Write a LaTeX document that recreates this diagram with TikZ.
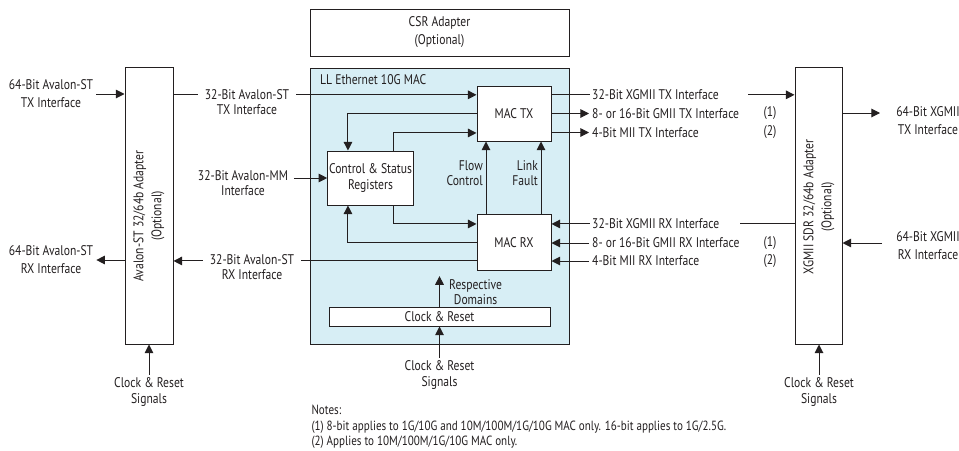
\documentclass[tikz,border=0pt]{standalone}
\usepackage{fontspec}
\setmainfont{PT Sans}[FakeStretch=0.83]
\usepackage{tikz}
\usetikzlibrary{arrows.meta, positioning}

\definecolor{macblue}{RGB}{215,238,245}
\definecolor{ink}{RGB}{35,31,32}

\begin{document}
\begin{tikzpicture}[x=0.75pt, y=-0.75pt, on grid, color=ink, line width=0.75pt,
    font=\fontsize{10.5}{11.5}\selectfont,
    block/.style={draw, fill=white, align=center, inner sep=1pt},
    lbl/.style={align=center, inner sep=2pt},
    cut/.style={lbl, fill=white, inner xsep=5pt},
    wide/.style={lbl, font=\fontsize{10.5}{13.5}\selectfont},
    arr/.style={-{Triangle[length=6.5pt, width=6.5pt]}}]

\useasboundingbox (0,0) rectangle (959,450);

\node[block, wide, minimum width=194.25pt, minimum height=35.25pt] (csra) at (439.5,32.5) {CSR Adapter\\(Optional)};
\node[block, fill=macblue, minimum width=194.25pt, minimum height=207pt] (mac) at (439.5,206) {};
\node[lbl, anchor=west] (mactitle) at (317,80) {LL Ethernet 10G MAC};

\node[block, minimum width=55.5pt, minimum height=41.25pt] (mactx) at (514,113.5) {MAC TX};
\node[block, minimum width=55.5pt, minimum height=42pt, below=97.1pt of mactx] (macrx) {MAC RX};
\node[block, minimum width=62.25pt, minimum height=40.5pt] (csreg) at (370.5,178) {Control \& Status\\Registers};
\node[block, minimum width=165.75pt, minimum height=14.25pt] (clkrst) at (439.5,316.5) {Clock \& Reset};

\node[block, minimum width=36pt, minimum height=207.75pt] (lada) at (149,205.5) {};
\node[wide, rotate=90] (ladatxt) at (149,216) {Avalon-ST 32/64b Adapter\\(Optional)};
\node[block, minimum width=35.25pt, minimum height=207.75pt] (rada) at (818.5,205.5) {};
\node[wide, rotate=90] (radatxt) at (819,207) {XGMII SDR 32/64b Adapter\\(Optional)};

\node[wide] (txin) at (51,94) {64-Bit Avalon-ST\\TX Interface};
\node[wide] (rxout) at (51,260) {64-Bit Avalon-ST\\RX Interface};
\node[lbl, inner xsep=4pt] (mmin) at (243,183) {32-Bit Avalon-MM\\Interface};

\coordinate (ytx) at ([yshift=14pt]mactx.west);
\coordinate (yrx) at ([yshift=-13.5pt]macrx.west);

\draw[arr] (txin.east) -- (txin.east -| lada.west);
\draw[arr] (lada.west |- rxout.east) -- (rxout.east);
\draw[arr] (ytx -| lada.east) -- (ytx);
\draw[arr] (yrx) -- (yrx -| lada.east);
\draw[arr] (mmin.east |- csreg.west) -- (csreg.west);
\node[cut] (txst) at (247,102) {32-Bit Avalon-ST\\TX Interface};
\node[cut] (rxst) at (252,267) {32-Bit Avalon-ST\\RX Interface};

\draw[arr] (mactx.west) -| ([xshift=-16.9pt]csreg.north);
\draw[arr] ([xshift=17.6pt]csreg.north) |- ([yshift=-14.6pt]mactx.west);
\draw[arr] ([xshift=17.6pt]csreg.south) |- ([yshift=14.25pt]macrx.west);
\draw[arr] (macrx.west) -| ([xshift=-16.9pt]csreg.south);
\draw[arr] ([xshift=-21pt]macrx.north) -- node[lbl, left, align=right, pos=0.57] {Flow\\Control} ([xshift=-21pt]mactx.south);
\draw[arr] ([xshift=20.25pt]macrx.north) -- node[lbl, left, align=right, pos=0.57] {Link\\Fault} ([xshift=20.25pt]mactx.south);

\node[lbl] (clkc) at (439.5,375) {Clock \& Reset\\Signals};
\draw[arr] (clkc.north) -- (clkc.north |- clkrst.south);
\node[lbl, anchor=west] (dom) at (446,292) {Respective\\Domains};
\draw[arr] (clkrst.north) -- (clkrst.north |- dom.north);
\node[lbl] (clkl) at (149,392) {Clock \& Reset\\Signals};
\draw[arr] (clkl.north) -- (clkl.north |- lada.south);
\node[lbl] (clkr) at (819,392) {Clock \& Reset\\Signals};
\draw[arr] (clkr.north) -- (clkr.north |- rada.south);

\draw[arr] (ytx -| mactx.east) -- (ytx -| rada.west);
\node[lbl, anchor=west, fill=white, text width=115pt, align=flush left] (xgtx) at (589,95) {32-Bit XGMII TX Interface};
\node[lbl, anchor=west] (gtx) at (589,113.5) {8- or 16-Bit GMII TX Interface};
\draw[arr] (gtx.west -| mactx.east) -- (gtx.west);
\node[lbl, anchor=west] (miitx) at (589,132.5) {4-Bit MII TX Interface};
\draw[arr] (miitx.west -| mactx.east) -- (miitx.west);
\node[lbl] (n1tx) at (770,113.5) {(1)};
\node[lbl] (n2tx) at (770,132.5) {(2)};

\coordinate (yxrx) at ([yshift=14.25pt]macrx.east);
\draw[arr] (yxrx -| rada.west) -- (yxrx);
\node[lbl, anchor=west, fill=white, text width=109pt, align=flush left] (xgrx) at (589,224) {32-Bit XGMII RX Interface};
\node[lbl, anchor=west] (grx) at (589,243) {8- or 16-Bit GMII RX Interface};
\draw[arr] (grx.west) -- (grx.west -| macrx.east);
\node[lbl, anchor=west] (miirx) at (589,261) {4-Bit MII RX Interface};
\draw[arr] (miirx.west) -- (miirx.west -| macrx.east);
\node[lbl] (n1rx) at (770,243) {(1)};
\node[lbl] (n2rx) at (770,261) {(2)};

\node[wide] (xgout) at (928,121) {64-Bit XGMII\\TX Interface};
\node[wide] (xgin) at (928,246) {64-Bit XGMII\\RX Interface};
\coordinate (xgoutend) at (880,113);
\coordinate (xginstart) at (882,243);
\draw[arr] (rada.east |- xgoutend) -- (xgoutend);
\draw[arr] (xginstart) -- (xginstart -| rada.east);

\node[lbl, anchor=north west, align=left, inner sep=0pt, font=\fontsize{10}{11.6}\selectfont] (notes) at (311,405) {Notes:\\(1) 8-bit applies to 1G/10G and 10M/100M/1G/10G MAC only. 16-bit applies to 1G/2.5G.\\(2) Applies to 10M/100M/1G/10G MAC only.};
\end{tikzpicture}
\end{document}
